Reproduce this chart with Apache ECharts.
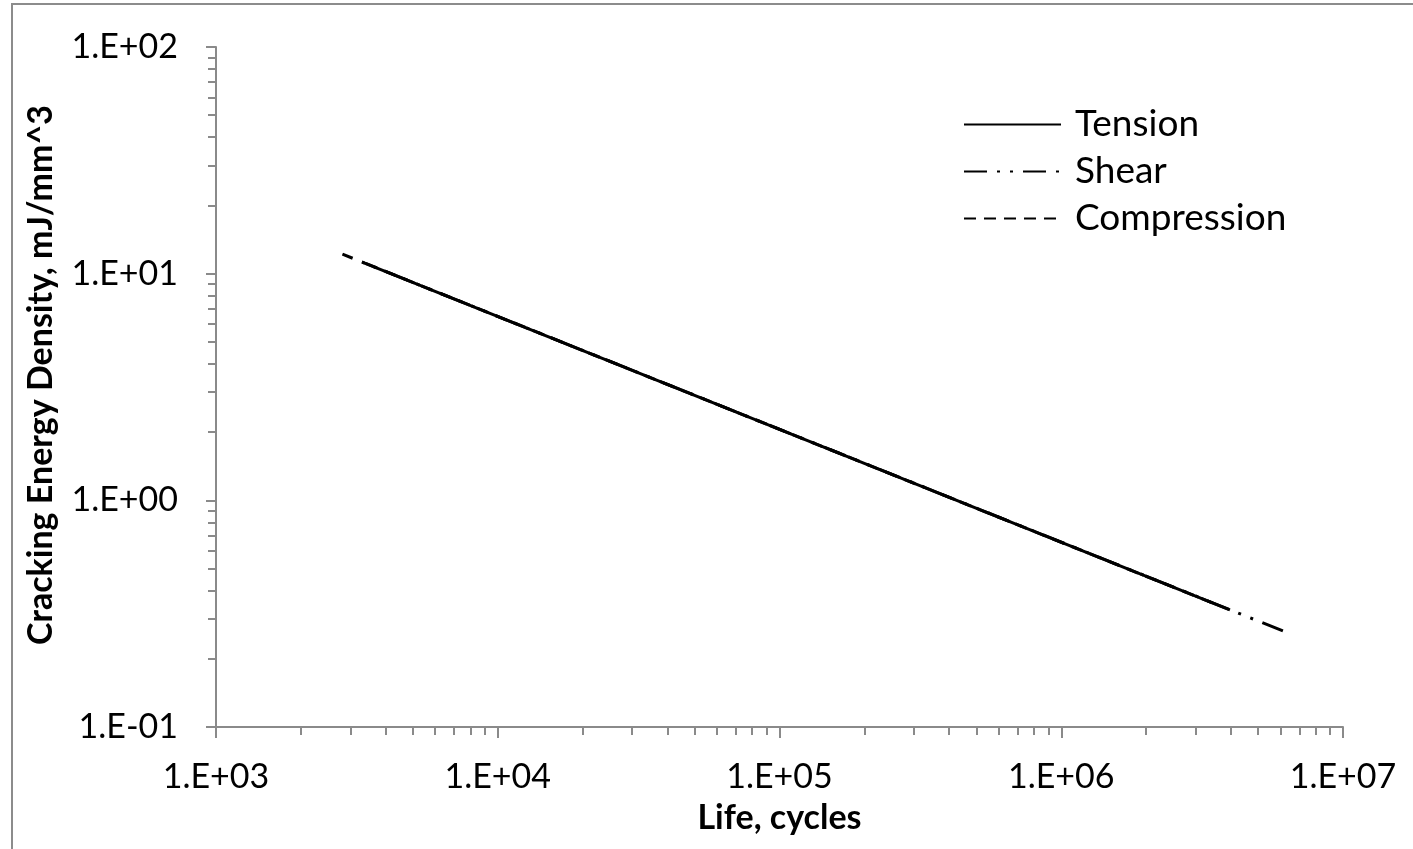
<!DOCTYPE html>
<html>
<head>
    <meta charset="utf-8">
    <title>Cracking Energy Density vs Life</title>
    <script src="https://cdn.jsdelivr.net/npm/echarts@6/dist/echarts.min.js"></script>
    <style>
        html, body { margin: 0; padding: 0; background: #fff; }
        #chart { width: 1413px; height: 849px; }
    </style>
</head>
<body>
    <div id="chart"></div>
    <script>
        // data (straight lines on log-log axes)
        var tensionLife = [3300, 3.97e6];
        var tensionCed = [11.25, 0.329];
        var shearLife = [2810, 6.12e6];
        var shearCed = [12.19, 0.2653];
        var compressionLife = [3400, 3.6e6];
        var compressionCed = [11.09, 0.345];

        var seriesNames = ['Tension', 'Shear', 'Compression'];
        var xDecades = [1e3, 1e4, 1e5, 1e6, 1e7];
        var yDecades = [1e-1, 1e0, 1e1, 1e2];

        var gray = '#8a8a8a';
        var font = 'Lato, "Liberation Sans", sans-serif';
        var shearDash = [23, 10, 3, 10, 3, 10];
        var compressionDash = [12, 8];

        function pairs(xs, ys) {
            return xs.map(function (x, i) { return [x, ys[i]]; });
        }

        // minor ticks at 2..9 of each decade
        function minorTicks(decades) {
            var out = [];
            for (var i = 0; i < decades.length - 1; i++) {
                for (var k = 2; k <= 9; k++) out.push(decades[i] * k);
            }
            return out;
        }

        function sciLabel(v) {
            var e = Math.round(Math.log10(v));
            var s = Math.abs(e) < 10 ? '0' + Math.abs(e) : '' + Math.abs(e);
            return '1.E' + (e < 0 ? '-' : '+') + s;
        }

        var chart = echarts.init(document.getElementById('chart'));

        var option = {
            animation: false,
            backgroundColor: '#fff',
            graphic: [{
                type: 'rect',
                shape: { x: 12, y: 4, width: 1500, height: 950 },
                style: { fill: 'none', stroke: '#8c8c8c', lineWidth: 2 },
                silent: true
            }],
            grid: { left: 216, right: 70, top: 47, bottom: 122 },
            legend: {
                orient: 'vertical',
                left: 958,
                top: 101,
                itemWidth: 97,
                itemHeight: 14,
                itemGap: 10,
                data: [
                    { name: seriesNames[0] },
                    { name: seriesNames[1], lineStyle: { type: shearDash, dashOffset: 0 } },
                    { name: seriesNames[2], lineStyle: { type: compressionDash } }
                ],
                textStyle: { fontFamily: font, fontSize: 37, color: '#000', lineHeight: 37, padding: [0, 0, 0, 9] },
                itemStyle: { opacity: 0 },
                lineStyle: { width: 2 }
            },
            xAxis: [{
                type: 'log',
                logBase: 10,
                min: 1e3,
                max: 1e7,
                name: 'Life, cycles',
                nameLocation: 'middle',
                nameGap: 74,
                nameTextStyle: { fontFamily: font, fontSize: 34, fontWeight: 'bold', color: '#000' },
                axisLine: { lineStyle: { color: gray, width: 2 } },
                axisTick: { length: 11, lineStyle: { color: gray, width: 2 } },
                axisLabel: {
                    margin: 33, fontFamily: font, fontSize: 34, color: '#000',
                    formatter: sciLabel
                },
                splitLine: { show: false }
            }, {
                type: 'log',
                logBase: 10,
                min: 1e3,
                max: 1e7,
                position: 'bottom',
                axisLine: { show: false },
                axisTick: { length: 8, customValues: minorTicks(xDecades), lineStyle: { color: gray, width: 2 } },
                axisLabel: { show: false },
                splitLine: { show: false }
            }],
            yAxis: [{
                type: 'log',
                logBase: 10,
                min: 1e-1,
                max: 1e2,
                name: 'Cracking Energy Density, mJ/mm^3',
                nameLocation: 'middle',
                nameGap: 158,
                nameTextStyle: { fontFamily: font, fontSize: 34, fontWeight: 'bold', color: '#000', padding: [0, 0, 0, 24] },
                axisLine: { lineStyle: { color: gray, width: 2 } },
                axisTick: { length: 10, lineStyle: { color: gray, width: 2 } },
                axisLabel: {
                    margin: 38, fontFamily: font, fontSize: 34, color: '#000',
                    formatter: sciLabel
                },
                splitLine: { show: false }
            }, {
                type: 'log',
                logBase: 10,
                min: 1e-1,
                max: 1e2,
                position: 'left',
                axisLine: { show: false },
                axisTick: { length: 8, customValues: minorTicks(yDecades), lineStyle: { color: gray, width: 2 } },
                axisLabel: { show: false },
                splitLine: { show: false }
            }],
            series: [{
                name: 'Shear',
                type: 'line',
                symbol: 'none',
                z: 2,
                color: '#000',
                data: pairs(shearLife, shearCed),
                lineStyle: { color: '#000', width: 3, type: shearDash, dashOffset: 12 }
            }, {
                name: 'Compression',
                type: 'line',
                symbol: 'none',
                z: 3,
                color: '#000',
                data: pairs(compressionLife, compressionCed),
                lineStyle: { color: '#000', width: 3, type: compressionDash }
            }, {
                name: 'Tension',
                type: 'line',
                symbol: 'none',
                z: 4,
                color: '#000',
                data: pairs(tensionLife, tensionCed),
                lineStyle: { color: '#000', width: 3, type: 'solid' }
            }]
        };

        chart.setOption(option);
    </script>
</body>
</html>
